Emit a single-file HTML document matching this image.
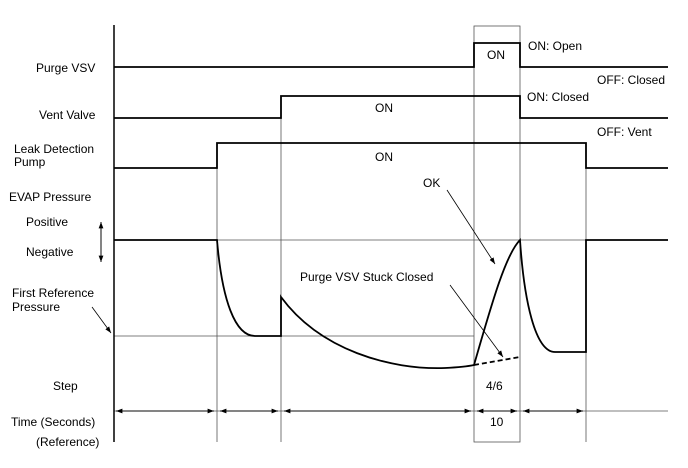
<!DOCTYPE html>
<html><head><style>body{margin:0;background:#fff}svg text{font-family:"Liberation Sans",sans-serif;font-size:12px;fill:#000}</style></head>
<body>
<svg width="688" height="463" viewBox="0 0 688 463" xmlns="http://www.w3.org/2000/svg">
<defs><marker id="a" markerWidth="8" markerHeight="6" refX="8" refY="3" orient="auto"><path d="M0,0 L8,3 L0,6z" fill="#000"/></marker></defs>
<g stroke="#555" stroke-width="0.8" fill="none">
<line x1="217" y1="143" x2="217" y2="442"/><line x1="281" y1="96" x2="281" y2="442"/><line x1="586" y1="143" x2="586" y2="442"/>
<rect x="474" y="26" width="46" height="416"/>
<line x1="114" y1="240" x2="668" y2="240"/><line x1="114" y1="336" x2="474" y2="336"/>
<line x1="114" y1="411" x2="668" y2="411"/>
</g>
<g stroke="#000" stroke-width="0.8">
<line x1="116" y1="411" x2="214" y2="411" marker-end="url(#a)"/><line x1="214" y1="411" x2="116" y2="411" marker-end="url(#a)"/>
<line x1="220" y1="411" x2="278" y2="411" marker-end="url(#a)"/><line x1="278" y1="411" x2="220" y2="411" marker-end="url(#a)"/>
<line x1="284" y1="411" x2="471" y2="411" marker-end="url(#a)"/><line x1="471" y1="411" x2="284" y2="411" marker-end="url(#a)"/>
<line x1="477" y1="411" x2="517" y2="411" marker-end="url(#a)"/><line x1="517" y1="411" x2="477" y2="411" marker-end="url(#a)"/>
<line x1="523" y1="411" x2="583" y2="411" marker-end="url(#a)"/><line x1="583" y1="411" x2="523" y2="411" marker-end="url(#a)"/>
<line x1="101" y1="222" x2="101" y2="262" marker-end="url(#a)"/><line x1="101" y1="262" x2="101" y2="222" marker-end="url(#a)"/>
<line x1="92" y1="307" x2="111" y2="333" marker-end="url(#a)"/>
<line x1="447" y1="190" x2="495" y2="264" marker-end="url(#a)"/>
<line x1="450" y1="285" x2="503" y2="357" marker-end="url(#a)"/>
</g>
<g stroke="#000" stroke-width="1.8" fill="none">
<line x1="114" y1="25" x2="114" y2="442" stroke-width="1.5"/>
<polyline points="114,67 474,67 474,43 520,43 520,67 668,67"/>
<polyline points="114,118 281,118 281,96 520,96 520,118 668,118"/>
<polyline points="114,168 217,168 217,143 586,143 586,168 668,168"/>
<path d="M114,240 H217 C222,300 235,336 255,336 H281 V297 C320,350 390,370 445,368 Q465,367 474,365 C490,310 505,255 520,240 C524,300 535,352 555,352 H586 V240 H668"/>
<line x1="474" y1="365" x2="520" y2="357" stroke-dasharray="5,3"/>
</g>
<text x="36" y="72">Purge VSV</text>
<text x="39" y="119">Vent Valve</text>
<text x="14" y="153">Leak Detection</text><text x="14" y="166">Pump</text>
<text x="9" y="201">EVAP Pressure</text>
<text x="26" y="226">Positive</text>
<text x="26" y="256">Negative</text>
<text x="12" y="297">First Reference</text><text x="12" y="311">Pressure</text>
<text x="53" y="390">Step</text>
<text x="11" y="426">Time (Seconds)</text>
<text x="36" y="446">(Reference)</text>
<text x="487" y="59">ON</text>
<text x="375" y="112">ON</text>
<text x="375" y="161">ON</text>
<text x="528" y="50">ON: Open</text>
<text x="597" y="84">OFF: Closed</text>
<text x="527" y="101">ON: Closed</text>
<text x="597" y="136">OFF: Vent</text>
<text x="423" y="187">OK</text>
<text x="300" y="281">Purge VSV Stuck Closed</text>
<text x="486" y="390">4/6</text>
<text x="490" y="426">10</text>
</svg>
</body></html>
